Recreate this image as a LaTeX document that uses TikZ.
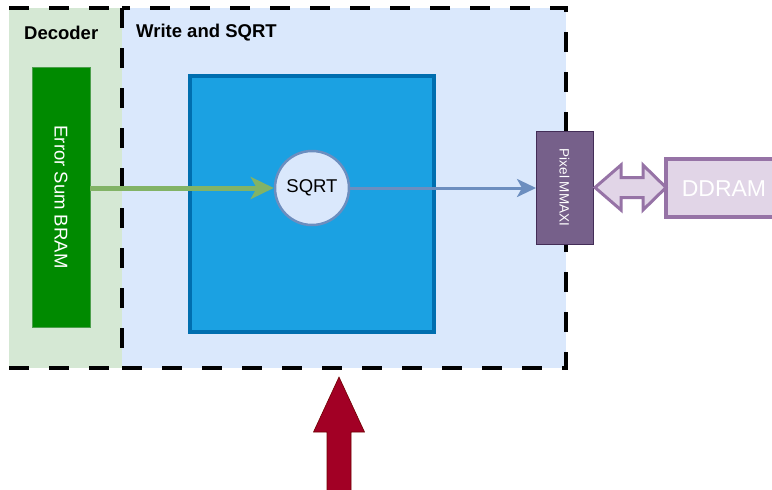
\documentclass[tikz,border=0pt]{standalone}
\usepackage{fontspec}
\setmainfont{Liberation Sans}
\usetikzlibrary{arrows.meta,calc}

\definecolor{decfill}{HTML}{D5E8D4}
\definecolor{wrfill}{HTML}{DAE8FC}
\definecolor{bramfill}{HTML}{008A00}
\definecolor{bramline}{HTML}{4C9F4C}
\definecolor{sqblue}{HTML}{1BA1E2}
\definecolor{sqline}{HTML}{006EAF}
\definecolor{cirline}{HTML}{6C8EBF}
\definecolor{grnarrow}{HTML}{82B366}
\definecolor{axifill}{HTML}{76608A}
\definecolor{axiline}{HTML}{432D57}
\definecolor{ddrfill}{HTML}{E1D5E7}
\definecolor{ddrline}{HTML}{9673A6}
\definecolor{redfill}{HTML}{A20025}
\definecolor{redline}{HTML}{6F0000}

\tikzset{
  block/.style={inner sep=0pt, outer sep=0pt, anchor=north west},
  title/.style={inner sep=0pt, anchor=west, font=\bfseries\fontsize{18.5}{22}\selectfont},
  borderline/.style={line width=4pt, dash pattern=on 20pt off 20pt},
  vlabel/.style={rotate=-90, text=white, inner sep=0pt},
}

\begin{document}
\begin{tikzpicture}[x=1pt, y=-1pt]
\useasboundingbox (0,0) rectangle (772,490);
\clip (0,0) rectangle (772,490);

% containers
\node[block, fill=decfill, minimum width=113pt, minimum height=360pt] (decoder) at (9,8) {};
\node[block, fill=wrfill, minimum width=444pt, minimum height=360pt] (write) at (122,8) {};
\node[title] (declabel) at (24,33) {Decoder};
\node[title] (wrlabel) at (136,33) {Write and SQRT};

% dashed borders
\draw[borderline] (decoder.north west) -- (decoder.north east);
\draw[borderline] (decoder.south west) -- (decoder.south east);
\draw[borderline] (write.north west) rectangle (write.south east);

% error sum memory
\node[block, fill=bramfill, draw=bramline, line width=1pt,
      minimum width=58pt, minimum height=260pt] (bram) at (32,67) {};
\node[vlabel, font=\fontsize{18.5}{22}\selectfont] (bramtext) at (bram.center) {Error Sum BRAM};

% processing block with square root
\node[block, fill=sqblue, draw=sqline, line width=4pt,
      minimum width=244pt, minimum height=256pt] (core) at (190,76) {};
\node[circle, fill=wrfill, draw=cirline, line width=2.5pt, minimum size=74pt,
      inner sep=0pt, font=\fontsize{18.5}{22}\selectfont] (sqrt) at (312,188) {SQRT};

% AXI master port
\node[block, fill=axifill, draw=axiline, line width=1pt,
      minimum width=57pt, minimum height=113pt] (mmaxi) at (536,131) {};
\node[vlabel, font=\fontsize{13.5}{16}\selectfont] (mmaxitext) at (mmaxi.center) {Pixel MMAXI};

% external memory
\node[block, fill=ddrfill, draw=ddrline, line width=4pt,
      minimum width=116pt, minimum height=58pt] (ddram) at (666,159) {};
\node[text=white, inner sep=0pt, font=\fontsize{23}{27}\selectfont] (ddramtext) at (724,189) {DDRAM};

% data paths
\draw[grnarrow, line width=5pt, -{Stealth[length=23pt, width=22pt, inset=6pt]}]
  (bram.east |- sqrt.west) -- (sqrt.west);
\draw[cirline, line width=3pt, -{Stealth[length=19pt, width=18pt, inset=5pt]}]
  (sqrt.east) -- (mmaxi.west |- sqrt.east);

% bidirectional memory link
\coordinate (la) at ($(mmaxi.east)+(2,0)$);
\coordinate (ra) at (ddram.west |- la);
\draw[fill=ddrfill, draw=ddrline, line width=3pt, line join=miter]
  (la) -- ++(26,-22.5) -- ++(0,12.5) -- ($(ra)+(-23,-10)$) -- ++(0,-12.5) -- (ra)
  -- ++(-23,22.5) -- ++(0,-12.5) -- ($(la)+(26,10)$) -- ++(0,12.5) -- cycle;

% input arrow from below
\coordinate (rtip) at (339,377);
\draw[fill=redfill, draw=redline, line width=0.6pt]
  (rtip) -- ++(25.5,55) -- ++(-13.5,0) -- ++(0,70) -- ++(-24,0) -- ++(0,-70)
  -- ++(-13.5,0) -- cycle;
\end{tikzpicture}
\end{document}
